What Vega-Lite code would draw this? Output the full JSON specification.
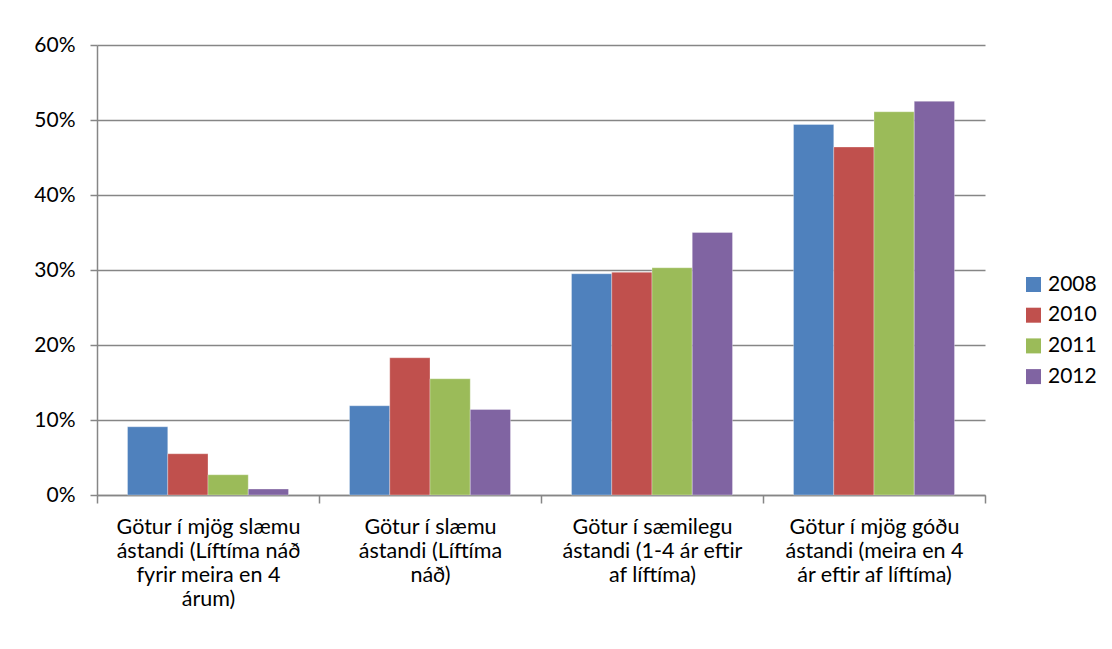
{
  "$schema": "https://vega.github.io/schema/vega-lite/v6.json",
  "width": 888,
  "height": 450,
  "padding": {"left": 97, "top": 45, "right": 127, "bottom": 154},
  "autosize": {"type": "none"},
  "background": "white",
  "data": {
    "values": [
      {"cat": "Götur í mjög slæmu|ástandi (Líftíma náð|fyrir meira en 4|árum)", "year": "2008", "value": 0.091},
      {"cat": "Götur í mjög slæmu|ástandi (Líftíma náð|fyrir meira en 4|árum)", "year": "2010", "value": 0.055},
      {"cat": "Götur í mjög slæmu|ástandi (Líftíma náð|fyrir meira en 4|árum)", "year": "2011", "value": 0.027},
      {"cat": "Götur í mjög slæmu|ástandi (Líftíma náð|fyrir meira en 4|árum)", "year": "2012", "value": 0.008},
      {"cat": "Götur í slæmu|ástandi (Líftíma|náð)", "year": "2008", "value": 0.119},
      {"cat": "Götur í slæmu|ástandi (Líftíma|náð)", "year": "2010", "value": 0.183},
      {"cat": "Götur í slæmu|ástandi (Líftíma|náð)", "year": "2011", "value": 0.155},
      {"cat": "Götur í slæmu|ástandi (Líftíma|náð)", "year": "2012", "value": 0.114},
      {"cat": "Götur í sæmilegu|ástandi (1-4 ár eftir|af líftíma)", "year": "2008", "value": 0.295},
      {"cat": "Götur í sæmilegu|ástandi (1-4 ár eftir|af líftíma)", "year": "2010", "value": 0.297},
      {"cat": "Götur í sæmilegu|ástandi (1-4 ár eftir|af líftíma)", "year": "2011", "value": 0.303},
      {"cat": "Götur í sæmilegu|ástandi (1-4 ár eftir|af líftíma)", "year": "2012", "value": 0.350},
      {"cat": "Götur í mjög góðu|ástandi (meira en 4|ár eftir af líftíma)", "year": "2008", "value": 0.494},
      {"cat": "Götur í mjög góðu|ástandi (meira en 4|ár eftir af líftíma)", "year": "2010", "value": 0.464},
      {"cat": "Götur í mjög góðu|ástandi (meira en 4|ár eftir af líftíma)", "year": "2011", "value": 0.511},
      {"cat": "Götur í mjög góðu|ástandi (meira en 4|ár eftir af líftíma)", "year": "2012", "value": 0.525}
    ]
  },
  "mark": {"type": "bar", "stroke": "white", "strokeWidth": 0.5, "strokeOpacity": 0.6},
  "encoding": {
    "x": {
      "field": "cat",
      "type": "nominal",
      "sort": null,
      "scale": {"paddingInner": 0, "paddingOuter": 0},
      "axis": {
        "title": null,
        "labelAngle": 0,
        "labelExpr": "split(datum.label, '|')",
        "labelLineHeight": 24,
        "labelBaseline": "top",
        "labelPadding": 13,
        "labelOverlap": false,
        "labelLimit": 400,
        "labelFont": "Lato",
        "labelFontSize": 21.5,
        "labelColor": "#000000",
        "tickBand": "extent",
        "tickSize": 8,
        "tickColor": "#868686",
        "domainColor": "#868686",
        "domainWidth": 1.5,
        "tickWidth": 1.5,
        "grid": false
      }
    },
    "xOffset": {"field": "year", "type": "nominal", "scale": {"paddingInner": 0, "paddingOuter": 0.758}},
    "y": {
      "field": "value",
      "type": "quantitative",
      "scale": {"domain": [0, 0.6], "nice": false},
      "axis": {
        "title": null,
        "format": ".0%",
        "values": [0, 0.1, 0.2, 0.3, 0.4, 0.5, 0.6],
        "labelOverlap": false,
        "labelFont": "Lato",
        "labelFontSize": 21,
        "labelColor": "#000000",
        "labelPadding": 15,
        "tickSize": 7,
        "tickColor": "#868686",
        "domainColor": "#868686",
        "domainWidth": 1.5,
        "tickWidth": 1.5,
        "grid": true,
        "gridColor": "#868686",
        "gridWidth": 1.5
      }
    },
    "color": {
      "field": "year",
      "type": "nominal",
      "scale": {"domain": ["2008", "2010", "2011", "2012"], "range": ["#4F81BD", "#C0504D", "#9BBB59", "#8064A2"]},
      "legend": {
        "title": null,
        "orient": "none",
        "legendX": 926,
        "legendY": 229,
        "symbolType": "square",
        "symbolSize": 225,
        "symbolStrokeWidth": 0,
        "labelFont": "Lato",
        "labelFontSize": 21,
        "labelColor": "#000000",
        "rowPadding": 8.7,
        "labelOffset": 4
      }
    }
  },
  "config": {"view": {"stroke": null}}
}
